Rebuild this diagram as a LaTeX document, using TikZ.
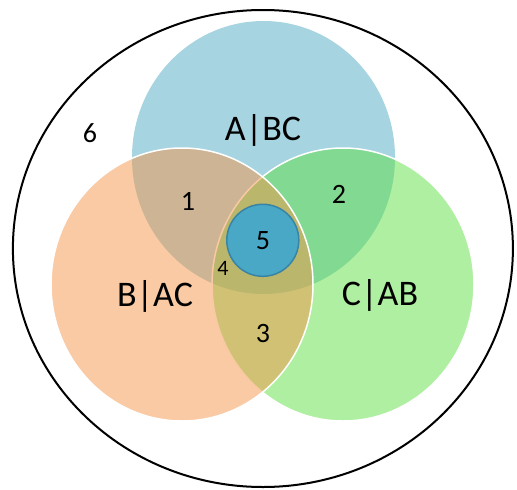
\documentclass[tikz,border=0pt]{standalone}
\usepackage{fontspec}
\setmainfont{Carlito}
\begin{document}
\begin{tikzpicture}[x=1pt,y=-1pt,
  bigtxt/.style={font=\fontsize{36}{38}\selectfont, anchor=base, inner sep=0pt},
  numtxt/.style={font=\fontsize{28}{30}\selectfont, anchor=base, inner sep=0pt},
  smalltxt/.style={font=\fontsize{22}{24}\selectfont, anchor=base, inner sep=0pt}]
\definecolor{cA}{RGB}{166,212,225}
\definecolor{cB}{RGB}{243,149,73}
\definecolor{cC}{RGB}{95,223,67}
\definecolor{cFive}{RGB}{74,168,199}
\definecolor{cFiveB}{RGB}{56,132,165}
\useasboundingbox (0,0) rectangle (517,490);
% outer ellipse
\draw[line width=2pt, black] (262.9,248.5) ellipse [x radius=250pt, y radius=238.5pt];
% A
\fill[cA] (263.5,157.5) ellipse [x radius=131.5pt, y radius=136.5pt];
% C
\draw[white, line width=1.5pt, fill=cC, fill opacity=0.5] (343,284.5) ellipse [x radius=131pt, y radius=136.5pt];
% B
\draw[white, line width=1.5pt, fill=cB, fill opacity=0.5] (182,284.5) ellipse [x radius=131pt, y radius=136.5pt];
% 5 circle
\draw[cFiveB, line width=1.5pt, fill=cFive] (262.8,240.3) circle [radius=36pt];
% labels
\node[bigtxt] (la) at (263,140) {A|BC};
\node[bigtxt] (lb) at (155,306) {B|AC};
\node[bigtxt] (lc) at (380,305) {C|AB};
\node[numtxt] (n1) at (188,210) {1};
\node[numtxt] (n2) at (339,203) {2};
\node[numtxt] (n3) at (263,342) {3};
\node[smalltxt] (n4) at (223,275) {4};
\node[numtxt] (n5) at (263,249) {5};
\node[numtxt] (n6) at (90,142) {6};
\end{tikzpicture}
\end{document}
